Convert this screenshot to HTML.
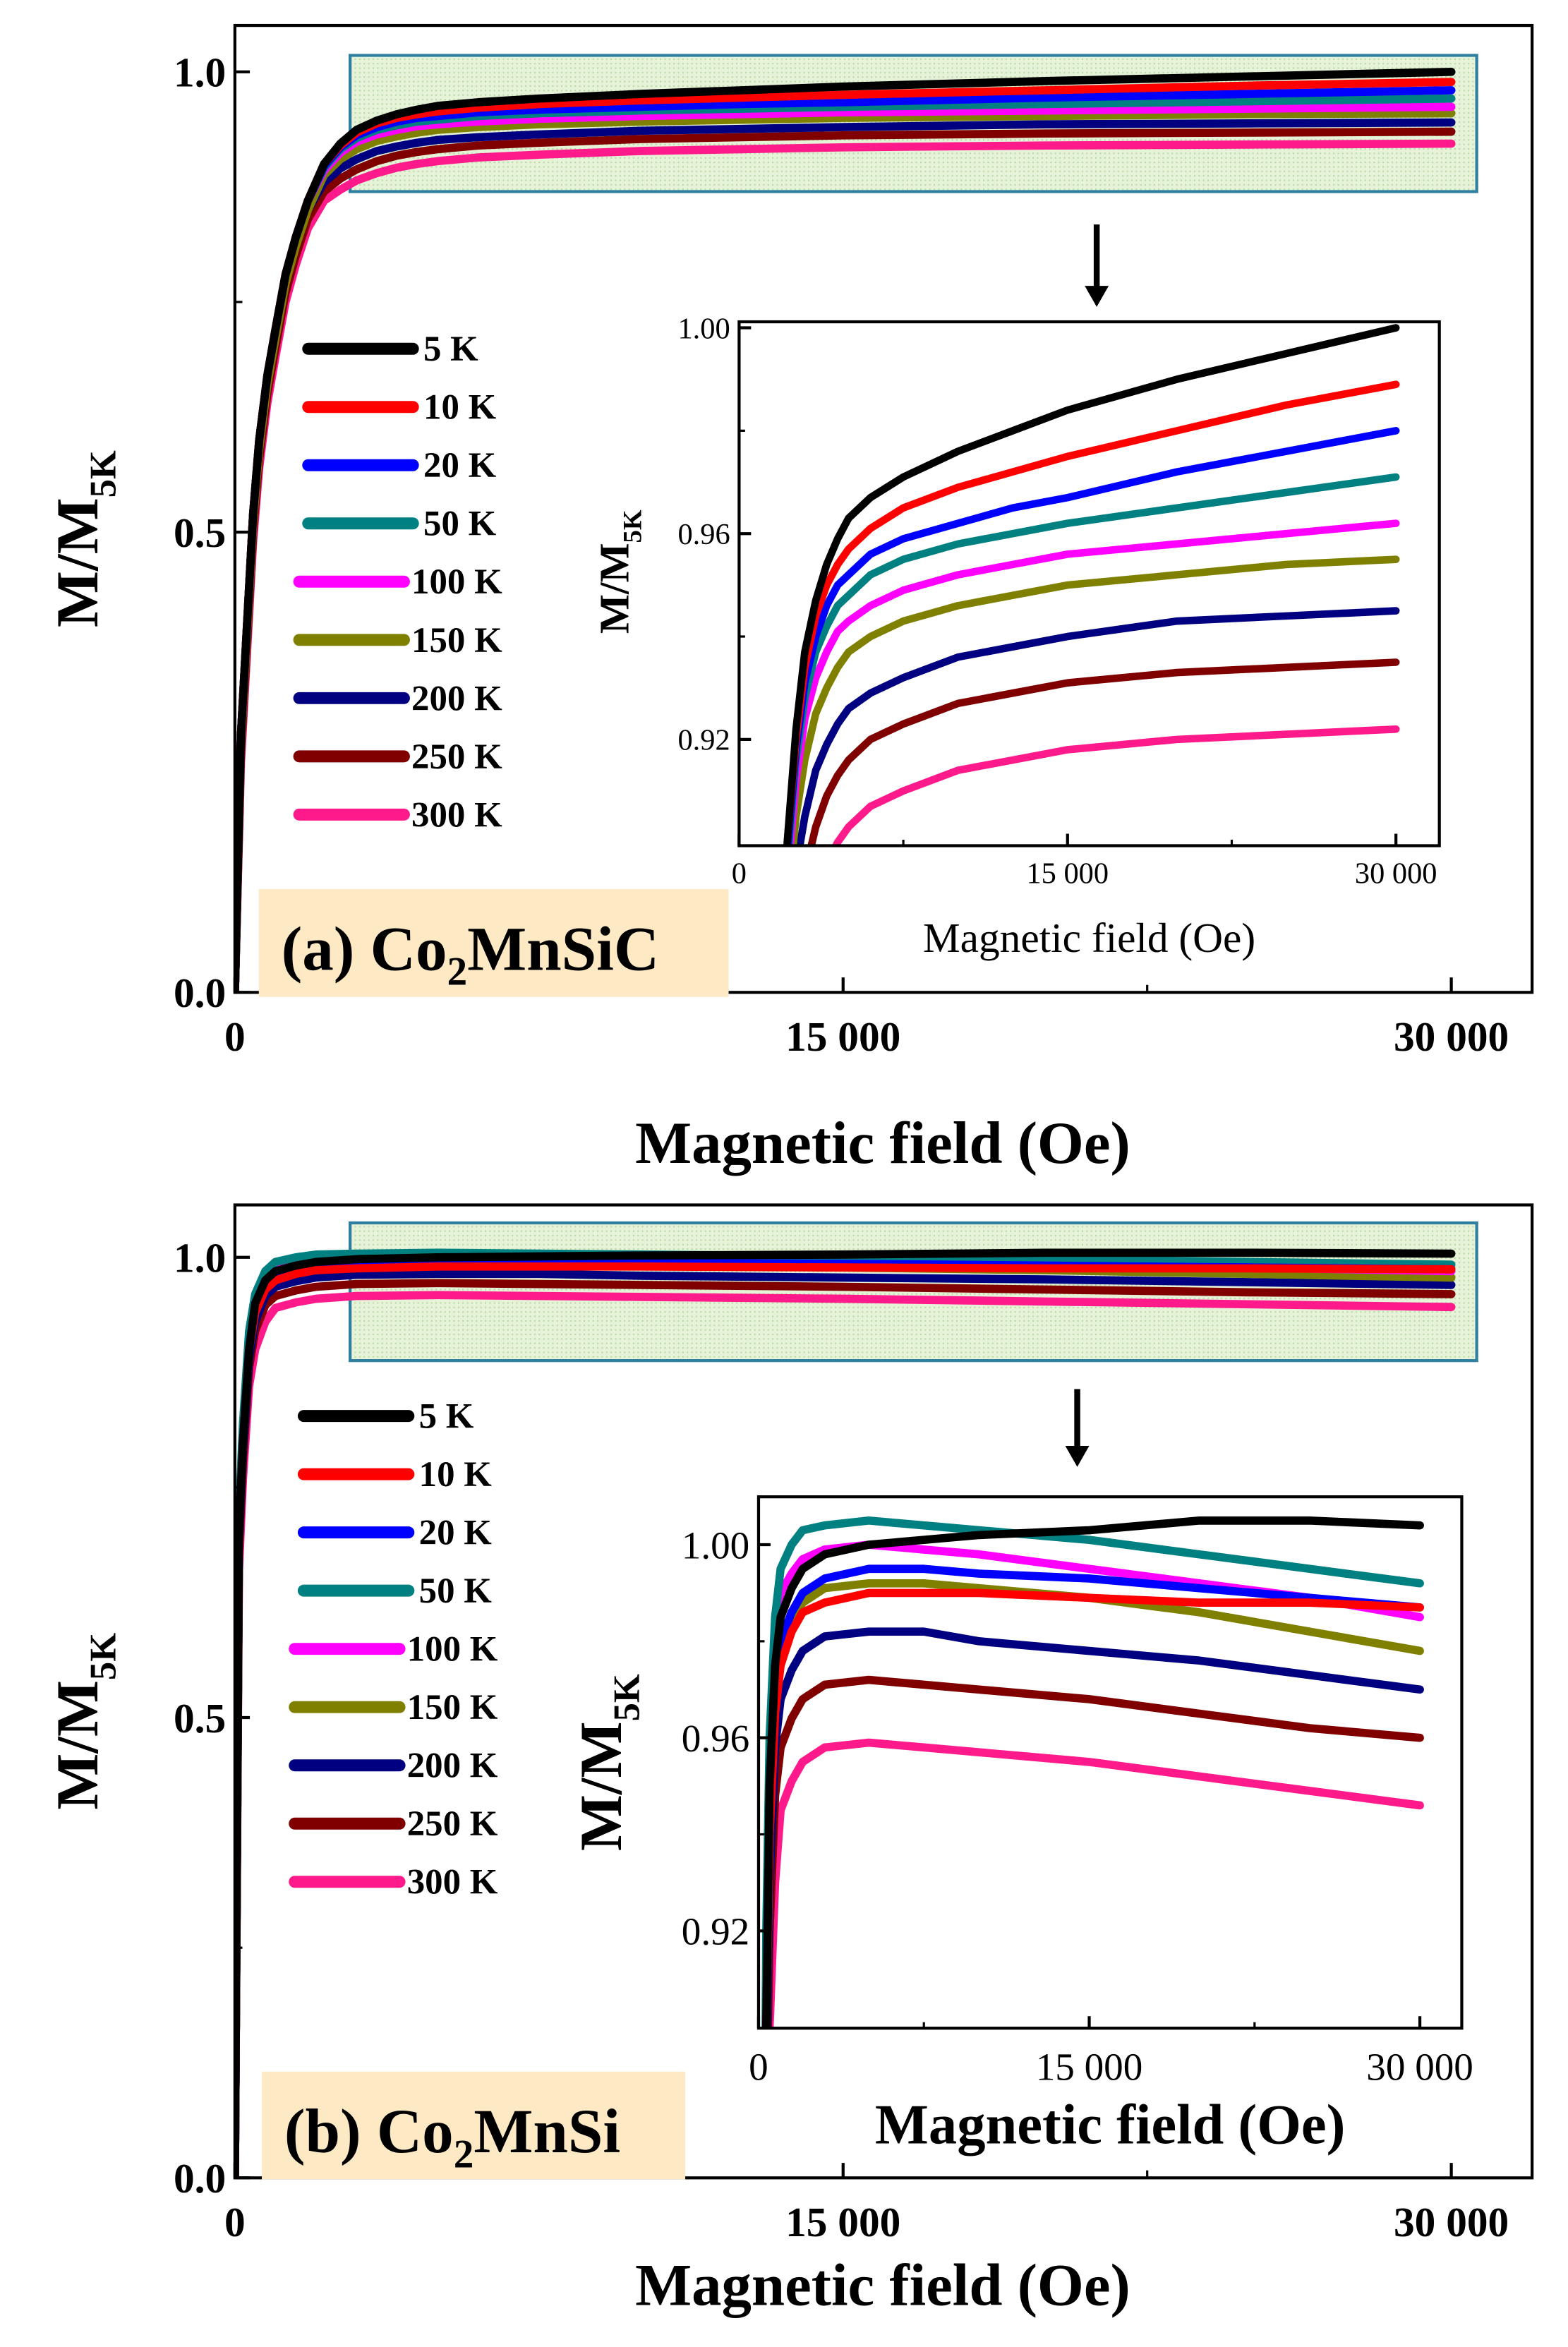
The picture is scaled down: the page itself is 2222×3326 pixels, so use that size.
<!DOCTYPE html>
<html><head><meta charset="utf-8">
<style>
html,body{margin:0;padding:0;background:#fff;width:2222px;height:3326px;overflow:hidden;}
svg{display:block;overflow:hidden;position:absolute;left:0;top:0;}
text{font-family:"Liberation Serif",serif;}
</style></head>
<body>
<svg id="fig" width="2222" height="3326" viewBox="0 0 1048 1568" preserveAspectRatio="none" xmlns="http://www.w3.org/2000/svg">
<defs>
<pattern id="hatch" width="3" height="3" patternUnits="userSpaceOnUse">
<rect width="3" height="3" fill="#e6f3d8"/><rect width="1" height="1" fill="#b9d9a6"/>
</pattern>
</defs>
</svg>
<script>
const labels=["5 K","10 K","20 K","50 K","100 K","150 K","200 K","250 K","300 K"];
const colors=["#000000","#ff0000","#0000ff","#008080","#ff00ff","#808000","#000080","#800000","#ff1a8c"];
const fieldsA=[0,150,300,450,600,800,1000,1250,1500,1800,2200,2600,3000,3500,4000,4500,5000,6000,7500,10000,12500,15000,20000,25000,30000];
const a5=[0,0.28,0.40,0.52,0.60,0.67,0.72,0.78,0.82,0.86,0.90,0.922,0.937,0.947,0.954,0.959,0.963,0.967,0.971,0.976,0.980,0.984,0.990,0.995,1.0];
const a10=[0,0.28,0.40,0.52,0.60,0.67,0.72,0.78,0.82,0.86,0.90,0.920,0.934,0.944,0.950,0.954,0.957,0.961,0.965,0.969,0.972,0.975,0.980,0.985,0.989];
const a20=[0,0.28,0.40,0.52,0.60,0.67,0.72,0.78,0.82,0.86,0.898,0.918,0.931,0.940,0.946,0.950,0.952,0.956,0.959,0.962,0.965,0.967,0.972,0.976,0.980];
const a50=[0,0.28,0.40,0.52,0.60,0.67,0.72,0.78,0.82,0.86,0.896,0.916,0.928,0.937,0.942,0.946,0.948,0.952,0.955,0.958,0.960,0.962,0.965,0.968,0.971];
const a100=[0,0.28,0.40,0.52,0.60,0.67,0.72,0.78,0.82,0.86,0.893,0.912,0.924,0.932,0.937,0.941,0.943,0.946,0.949,0.952,0.954,0.956,0.958,0.960,0.962];
const a150=[0,0.27,0.39,0.51,0.59,0.66,0.71,0.77,0.81,0.85,0.888,0.905,0.916,0.925,0.930,0.934,0.937,0.940,0.943,0.946,0.948,0.950,0.952,0.954,0.955];
const a200=[0,0.27,0.39,0.51,0.59,0.66,0.71,0.77,0.81,0.85,0.880,0.895,0.905,0.914,0.919,0.923,0.926,0.929,0.932,0.936,0.938,0.940,0.943,0.944,0.945];
const a250=[0,0.26,0.38,0.50,0.58,0.65,0.70,0.76,0.80,0.84,0.870,0.884,0.894,0.903,0.909,0.913,0.916,0.920,0.923,0.927,0.929,0.931,0.933,0.934,0.935];
const a300=[0,0.25,0.37,0.49,0.57,0.64,0.69,0.75,0.79,0.83,0.860,0.872,0.882,0.890,0.896,0.900,0.903,0.907,0.910,0.914,0.916,0.918,0.920,0.921,0.922];
const fieldsB=[0,100,200,350,500,750,1000,1500,2000,3000,5000,7500,10000,15000,20000,25000,30000];
const b5=[0,0.70,0.80,0.90,0.95,0.975,0.985,0.991,0.995,0.998,1.000,1.001,1.002,1.003,1.005,1.005,1.004];
const b10=[0,0.70,0.80,0.90,0.94,0.965,0.975,0.982,0.986,0.988,0.990,0.990,0.990,0.989,0.988,0.988,0.987];
const b20=[0,0.70,0.80,0.90,0.945,0.97,0.98,0.986,0.990,0.993,0.995,0.995,0.994,0.993,0.991,0.989,0.987];
const b50=[0,0.72,0.82,0.92,0.96,0.985,0.995,1.000,1.003,1.004,1.005,1.004,1.003,1.001,0.998,0.995,0.992];
const b100=[0,0.71,0.81,0.91,0.955,0.98,0.99,0.994,0.997,0.999,1.000,0.999,0.998,0.995,0.992,0.989,0.985];
const b150=[0,0.70,0.80,0.90,0.94,0.968,0.978,0.984,0.988,0.991,0.992,0.992,0.991,0.989,0.986,0.982,0.978];
const b200=[0,0.69,0.79,0.89,0.93,0.958,0.968,0.974,0.978,0.981,0.982,0.982,0.980,0.978,0.976,0.973,0.970];
const b250=[0,0.68,0.78,0.88,0.92,0.948,0.958,0.964,0.968,0.971,0.972,0.971,0.970,0.968,0.965,0.962,0.960];
const b300=[0,0.66,0.76,0.86,0.90,0.93,0.945,0.951,0.955,0.958,0.959,0.958,0.957,0.955,0.952,0.949,0.946];
const seriesA=[a5,a10,a20,a50,a100,a150,a200,a250,a300];
const seriesB=[b5,b10,b20,b50,b100,b150,b200,b250,b300];
const mainXTicks=[0,15000,30000], mainXLabels=["0","15 000","30 000"];
const mainYTicks=[0,0.5,1.0], mainYLabels=["0.0","0.5","1.0"];
const insetATicks=[0.92,0.96,1.00], insetALabels=["0.92","0.96","1.00"];
const insetBTicks=[0.92,0.96,1.00], insetBLabels=["0.92","0.96","1.00"];

const NS="http://www.w3.org/2000/svg";
const svg=document.getElementById('fig');
let clipN=0;
function mk(tag,attrs,parent){const e=document.createElementNS(NS,tag);for(const k in attrs)e.setAttribute(k,attrs[k]);(parent||svg).appendChild(e);return e;}
function scale(d0,d1,p0,p1){return v=>p0+(v-d0)/(d1-d0)*(p1-p0);}

function axes(g,x,y,box,xt,xl,yt,yl,xMinor,yMinor,fs,tl,name,xoff){
  const fr=mk('rect',{x:box[0],y:box[1],width:box[2]-box[0],height:box[3]-box[1],fill:'none',stroke:'#000','stroke-width':2},g);
  
  
  xt.forEach((v,i)=>{const px=x(v);
    mk('line',{x1:px,x2:px,y1:box[3],y2:box[3]-tl,stroke:'#000','stroke-width':2},g);
    const t=mk('text',{x:px,y:box[3]+fs*1.25+xoff,'font-size':fs,'text-anchor':'middle','font-weight':name.startsWith('main')?'bold':'normal'},g);
    t.textContent=xl[i];
    
    });
  xMinor.forEach(v=>{const px=x(v);mk('line',{x1:px,x2:px,y1:box[3],y2:box[3]-tl/2,stroke:'#000','stroke-width':1.5},g);});
  yt.forEach((v,i)=>{const py=y(v);
    mk('line',{x1:box[0],x2:box[0]+tl,y1:py,y2:py,stroke:'#000','stroke-width':2},g);
    const t=mk('text',{x:box[0]-6,y:py+fs*0.35,'font-size':fs,'text-anchor':'end','font-weight':name.startsWith('main')?'bold':'normal'},g);
    t.textContent=yl[i];
    
    });
  yMinor.forEach(v=>{const py=y(v);mk('line',{x1:box[0],x2:box[0]+tl/2,y1:py,y2:py,stroke:'#000','stroke-width':1.5},g);});
}
function curves(g,x,y,box,fields,series,w,name){
  const id='clip'+(clipN++);
  const cp=mk('clipPath',{id:id},g);
  mk('rect',{x:box[0],y:box[1],width:box[2]-box[0],height:box[3]-box[1]},cp);
  const cg=mk('g',{'clip-path':'url(#'+id+')'},g);
  for(let s=series.length-1;s>=0;s--){
    const d=series[s].map((v,i)=>(i?'L':'M')+x(fields[i]).toFixed(2)+','+y(v).toFixed(2)).join(' ');
    const p=mk('path',{d:d,fill:'none',stroke:colors[s],'stroke-width':w,'stroke-linejoin':'round','stroke-linecap':'round'},cg);
    
    
  }
}
function ylabel(g,cx,cy,fs,name){
  const t=mk('text',{transform:`translate(${cx},${cy}) rotate(-90)`,'font-size':fs,'font-weight':'bold','text-anchor':'middle'},g);
  t.innerHTML='M/M<tspan font-size="'+(fs*0.62)+'" dy="'+(fs*0.3)+'">5K</tspan>';
  
  
}
function xlabel(g,cx,cy,fs,bold,name){
  const t=mk('text',{x:cx,y:cy,'font-size':fs,'font-weight':bold?'bold':'normal','text-anchor':'middle'},g);
  t.textContent='Magnetic field (Oe)';
  
  
}
function panel(P){
  const g=mk('g',{});
  
  
  const box=[157,P.top,1024,P.bottom];
  const x=scale(0,30000,157,970), y=scale(0,1,P.bottom,P.y1);
  const hl=mk('rect',{x:234,y:P.hl[0],width:753,height:P.hl[1]-P.hl[0],fill:'url(#hatch)',stroke:'#2f7fa0','stroke-width':2},g);
  
  
  curves(g,x,y,[157,box[1]-5,1024,box[3]],P.fields,P.series,5.5,'main-'+P.id);
  axes(g,x,y,box,mainXTicks,mainXLabels,mainYTicks,mainYLabels,[7500,22500],[0.25,0.75],28,10,'main-'+P.id,4);
  ylabel(g,65,P.ylc,40,'y-axis-title-'+P.id);
  xlabel(g,590,P.xlt,40,true,'x-axis-title-'+P.id);
  labels.forEach((l,i)=>{const yy=P.leg[1]+i*P.leg[2];
    const ln=mk('line',{x1:P.leg[0]+(i>=4?-6:0),x2:P.leg[0]+70-(i>=4?6:0),y1:yy,y2:yy,stroke:colors[i],'stroke-width':8,'stroke-linecap':'round'},g);
    
    
    const t=mk('text',{x:P.leg[0]+77-(i>=4?8:0),y:yy+8,'font-size':24,'font-weight':'bold'},g);
    t.textContent=l;
    
    });
  const lb=mk('rect',{x:P.lbl[0],y:P.lbl[1],width:P.lbl[2],height:P.lbl[3],fill:'#fde9c4'},g);
  
  
  const lt=mk('text',{x:P.lbl[0]+15,y:P.lbl[1]+P.lbl[3]-18,'font-size':42,'font-weight':'bold'},g);
  lt.innerHTML=P.title;
  
  
  const ar=mk('g',{},g);
  
  
  mk('line',{x1:P.arrow[0],x2:P.arrow[0],y1:P.arrow[1],y2:P.arrow[2]-12,stroke:'#000','stroke-width':4},ar);
  mk('polygon',{points:`${P.arrow[0]-8},${P.arrow[2]-14} ${P.arrow[0]+8},${P.arrow[2]-14} ${P.arrow[0]},${P.arrow[2]}`,fill:'#000'},ar);
  const I=P.inset;
  const ig=mk('g',{},g);
  
  
  mk('rect',{x:I.box[0],y:I.box[1],width:I.box[2]-I.box[0],height:I.box[3]-I.box[1],fill:'#fff'},ig);
  const ix=scale(0,30000,I.box[0],I.x30), iy=scale(0.92,1.0,I.y092,I.y1);
  curves(ig,ix,iy,I.box,P.fields,P.series,I.lw,'inset-'+P.id);
  axes(ig,ix,iy,I.box,[0,15000,30000],["0","15 000","30 000"],I.ticks,I.tlabels,[7500,22500],[0.94,0.98],I.fs,8,'inset-'+P.id,I.xoff);
  ylabel(ig,I.ylx,(I.box[1]+I.box[3])/2+I.yoff,I.yfs,'inset-y-axis-title-'+P.id);
  xlabel(ig,(I.box[0]+I.box[2])/2,I.xly,I.xfs,P.id==='b','inset-x-axis-title-'+P.id);
}
panel({id:'a',top:17,bottom:663,y1:48,hl:[37,128],fields:fieldsA,series:seriesA,ylc:360,xlt:777,
  leg:[206,233,38.9],lbl:[173,594,314,72],title:'(a) Co<tspan font-size="27" dy="10">2</tspan><tspan dy="-10">MnSiC</tspan>',
  arrow:[733,150,205],
  inset:{box:[494,215,962,565],x30:933,y092:494,y1:219,ticks:insetATicks,tlabels:insetALabels,fs:20,lw:5,ylx:420,yoff:-8,yfs:28,xly:636,xfs:28,xoff:0}});
panel({id:'b',top:805,bottom:1455,y1:840,hl:[817,909],fields:fieldsB,series:seriesB,ylc:1150,xlt:1540,
  leg:[203,946,38.9],lbl:[175,1384,283,72],title:'(b) Co<tspan font-size="27" dy="10">2</tspan><tspan dy="-10">MnSi</tspan>',
  arrow:[720,928,980],
  inset:{box:[507,1000,977,1355],x30:949,y092:1290,y1:1032,ticks:insetBTicks,tlabels:insetBLabels,fs:26,lw:5.5,ylx:415,yoff:0,yfs:40,xly:1432,xfs:38,xoff:2}});
</script>
</body></html>
